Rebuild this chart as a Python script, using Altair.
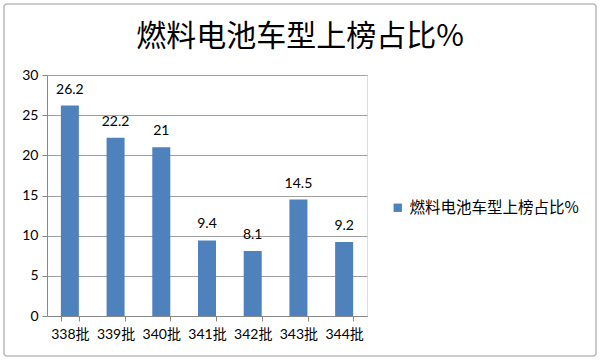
import altair as alt
import pandas as pd

batches = ["338批", "339批", "340批", "341批", "342批", "343批", "344批"]
shares = [26.2, 22.2, 21, 9.4, 8.1, 14.5, 9.2]
series_name = "燃料电池车型上榜占比%"
title_text = "燃料电池车型上榜占比%"

df = pd.DataFrame({"batch": batches, "share": shares, "series": [series_name] * len(batches)})
frame_df = pd.DataFrame({"k": [0]})

FONT = "Lato, Noto Sans CJK SC, sans-serif"
CJK = "Noto Sans CJK SC, sans-serif"

base = alt.Chart(df).encode(
    x=alt.X("batch:N", sort=batches, title=None,
            scale=alt.Scale(paddingInner=0.6, paddingOuter=0.3),
            axis=alt.Axis(labelAngle=0, tickBand="extent", labelFont=FONT, labelFontSize=14,
                          labelColor="#000000", domainColor="#888888", tickColor="#888888",
                          tickSize=5, labelPadding=6, grid=False)),
    y=alt.Y("share:Q", title=None,
            scale=alt.Scale(domain=[0, 30]),
            axis=alt.Axis(values=[0, 5, 10, 15, 20, 25, 30], labelFont=FONT, labelFontSize=14,
                          labelColor="#000000", domainColor="#888888", tickColor="#888888",
                          tickSize=5, gridColor="#A0A0A0", labelPadding=4)),
)

bars = base.mark_bar(size=18).encode(
    color=alt.Color("series:N", scale=alt.Scale(range=["#4F81BD"]),
                    legend=alt.Legend(title=None, orient="none", legendX=343, legendY=125,
                                      symbolType="square", symbolSize=70, labelFont=CJK,
                                      labelFontSize=15.5, labelColor="#000000", symbolStrokeWidth=0,
                                      labelOffset=4, labelLimit=260))
)

labels = base.mark_text(baseline="bottom", dy=-9, font=FONT, fontSize=14, color="#000000").encode(
    text=alt.Text("share:Q")
)

frame = alt.Chart(frame_df).mark_rect(fill=None, stroke="#BBBBBB", strokeWidth=1.5, cornerRadius=3).encode(
    x=alt.value(-43), x2=alt.value(549), y=alt.value(-71), y2=alt.value(281)
)

chart = alt.layer(frame, bars, labels).properties(
    width=320, height=241,
    title=alt.Title(title_text, font=CJK, fontSize=30, fontWeight="normal", color="#000000",
                    anchor="middle", dx=93, offset=-49),
    autosize=alt.AutoSizeParams(type="none"),
    padding={"left": 47, "top": 75, "right": 233, "bottom": 44},
).configure_view(stroke=None).configure(background="white")

chart.save("out.html", embed_options={"renderer": "svg", "actions": False})
